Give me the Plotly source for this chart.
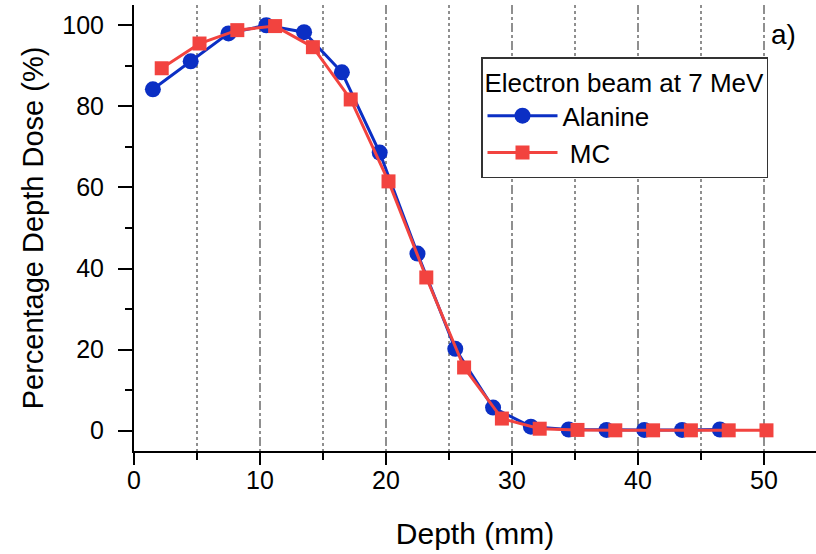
import plotly.graph_objects as go

# Percentage depth dose, 7 MeV electron beam
alanine_depth = [1.5, 4.5, 7.5, 10.5, 13.5, 16.5, 19.5, 22.5, 25.5, 28.5,
                 31.5, 34.5, 37.5, 40.5, 43.5, 46.5]
alanine_pdd = [84.2, 91.1, 98.0, 100.0, 98.3, 88.4, 68.6, 43.7, 20.2, 5.7,
               1.0, 0.3, 0.2, 0.2, 0.2, 0.3]

mc_depth = [2.2, 5.2, 8.2, 11.2, 14.2, 17.2, 20.2, 23.2, 26.2, 29.2,
            32.2, 35.2, 38.2, 41.2, 44.2, 47.2, 50.2]
mc_pdd = [89.4, 95.5, 98.8, 99.8, 94.6, 81.7, 61.5, 37.8, 15.6, 3.0,
          0.5, 0.2, 0.1, 0.1, 0.1, 0.1, 0.1]

x_ticks = [0, 10, 20, 30, 40, 50]
y_ticks = [0, 20, 40, 60, 80, 100]

BLUE = "#0b2fc4"
RED = "#f2433f"
GRID = "#8f8f8f"
FONT = "Arial, Liberation Sans, sans-serif"

fig = go.Figure()
fig.add_trace(go.Scatter(
    x=alanine_depth, y=alanine_pdd, name="Alanine", mode="lines+markers",
    line=dict(color=BLUE, width=3),
    marker=dict(symbol="circle", size=16, color=BLUE),
))
fig.add_trace(go.Scatter(
    x=mc_depth, y=mc_pdd, name=" MC", mode="lines+markers",
    line=dict(color=RED, width=3),
    marker=dict(symbol="square", size=14, color=RED),
))

x_range = [0, 54.13]

# plot area in pixels: x 134..816, y 5..451
PX_L, PX_R, PX_T, PX_B = 134, 816, 5, 451


def px_x(px):
    return (px - PX_L) / (PX_R - PX_L)


def px_y(py):
    return (PX_B - py) / (PX_B - PX_T)


fig.update_layout(
    width=816, height=554,
    margin=dict(l=PX_L, r=816 - PX_R, t=PX_T, b=554 - PX_B),
    paper_bgcolor="white", plot_bgcolor="white",
    font=dict(family=FONT, color="black"),
    xaxis=dict(
        range=x_range, tickvals=x_ticks, ticks="outside", ticklen=12,
        tickwidth=2, tickcolor="black", showline=True, linecolor="black",
        linewidth=2, zeroline=False, tickfont=dict(size=25),
        ticklabelstandoff=-6,
        showgrid=True, gridcolor=GRID, gridwidth=1.5, griddash="dash",
        minor=dict(dtick=5, tick0=0, ticks="outside", ticklen=7, tickwidth=2,
                   tickcolor="black", showgrid=True, gridcolor=GRID,
                   gridwidth=1.5, griddash="dot"),
        title=dict(text="Depth (mm)", font=dict(size=30), standoff=30),
    ),
    xaxis2=dict(
        range=x_range, overlaying="x", side="top", tickvals=x_ticks,
        ticks="inside", ticklen=10, tickwidth=2, tickcolor="black",
        showline=True, linecolor="black", linewidth=2, showticklabels=False,
        showgrid=False, zeroline=False,
        minor=dict(dtick=5, tick0=0, ticks="inside", ticklen=6, tickwidth=2,
                   tickcolor="black", showgrid=False),
    ),
    yaxis=dict(
        range=[-5, 105], tickvals=y_ticks, ticks="outside", ticklen=14,
        tickwidth=2, tickcolor="black", showline=True, linecolor="black",
        linewidth=2, zeroline=False, showgrid=False, tickfont=dict(size=25),
        ticklabelstandoff=9,
        minor=dict(dtick=10, tick0=0, ticks="outside", ticklen=7, tickwidth=2,
                   tickcolor="black"),
        title=dict(text="Percentage Depth Dose (%)", font=dict(size=29),
                   standoff=10),
    ),
    legend=dict(
        x=px_x(481), y=px_y(57), xanchor="left", yanchor="top",
        bgcolor="white", bordercolor="#333333", borderwidth=1.5,
        font=dict(size=26), itemwidth=70, tracegroupgap=0,
        title=dict(text="Electron beam at 7 MeV", font=dict(size=26)),
    ),
    annotations=[dict(
        text="a)", x=px_x(783), y=px_y(35), xref="paper", yref="paper",
        xanchor="center", yanchor="middle",
        showarrow=False, font=dict(size=28),
    )],
)

fig.write_html("out.html")
